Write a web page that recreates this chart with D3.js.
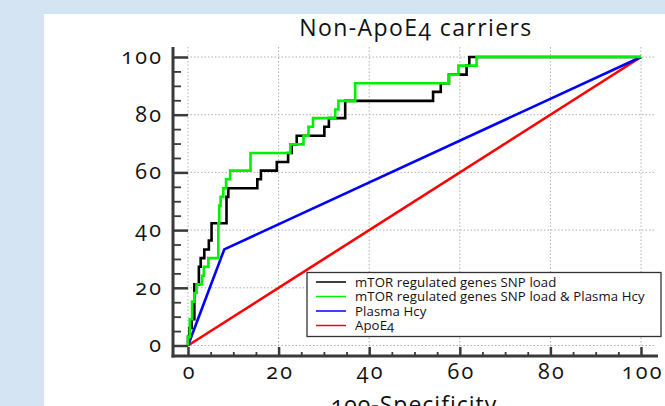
<!DOCTYPE html>
<html>
<head>
<meta charset="utf-8">
<script src="https://cdn.jsdelivr.net/npm/d3@7"></script>
<style>
  html, body { margin: 0; padding: 0; background: #d5e4f2; }
  svg { display: block; }
  .tick text, .lbl { font-family: "Open Sans", "DejaVu Sans", sans-serif; font-variant-numeric: oldstyle-nums; font-feature-settings: "onum" 1; }
</style>
</head>
<body>
<svg id="chart" width="665" height="406"></svg>
<script>
// ---------- data ----------
const title = "Non-ApoE4 carriers";
const xLabel = "100-Specificity";
const xTicks = [0, 20, 40, 60, 80, 100];
const yTicks = [0, 20, 40, 60, 80, 100];
const seriesNames = ["mTOR regulated genes SNP load", "mTOR regulated genes SNP load & Plasma Hcy", "Plasma Hcy", "ApoE4"];
const seriesColors = ["#000000", "#00f000", "#0000ff", "#ff0000"];

// ROC curves: [100-Specificity, Sensitivity]
const mtorSNP = [[0,0],[0,3.0],[0.3,3.0],[0.3,6.1],[0.8,6.1],[0.8,9.1],[1.4,9.1],[1.4,21.2],[2.4,21.2],[2.4,27.3],[2.8,27.3],[2.8,30.3],[3.6,30.3],[3.6,33.3],[4.6,33.3],[4.6,36.4],[5.2,36.4],[5.2,42.4],[8.5,42.4],[8.5,51.5],[8.9,51.5],[8.9,54.5],[15.3,54.5],[15.3,57.6],[16.1,57.6],[16.1,60.6],[19.6,60.6],[19.6,63.6],[22.1,63.6],[22.1,66.7],[22.9,66.7],[22.9,69.7],[24.0,69.7],[24.0,72.7],[30.1,72.7],[30.1,75.8],[31.1,75.8],[31.1,78.8],[34.7,78.8],[34.7,84.8],[54.1,84.8],[54.1,87.9],[55.8,87.9],[55.8,90.9],[57.6,90.9],[57.6,93.9],[61.5,93.9],[61.5,97.0],[62.1,97.0],[62.1,100],[100,100]];
const mtorSNPHcy = [[0,0],[0,3.0],[0.4,3.0],[0.4,9.1],[0.9,9.1],[0.9,15.2],[1.4,15.2],[1.4,18.2],[1.9,18.2],[1.9,21.2],[3.1,21.2],[3.1,24.2],[3.5,24.2],[3.5,27.3],[4.5,27.3],[4.5,30.3],[6.7,30.3],[6.7,42.4],[6.9,42.4],[6.9,48.5],[7.2,48.5],[7.2,51.5],[7.8,51.5],[7.8,54.5],[8.4,54.5],[8.4,57.6],[9.3,57.6],[9.3,60.6],[13.8,60.6],[13.8,66.7],[22.6,66.7],[22.6,69.7],[25.5,69.7],[25.5,72.7],[26.6,72.7],[26.6,75.8],[27.6,75.8],[27.6,78.8],[32.5,78.8],[32.5,81.8],[33.2,81.8],[33.2,84.8],[36.9,84.8],[36.9,90.9],[57.6,90.9],[57.6,93.9],[59.7,93.9],[59.7,97.0],[63.7,97.0],[63.7,100],[100,100]];
const plasmaHcy = [[0,0],[8,33.3],[100,100]];
const apoE4 = [[0,0],[100,100]];

// ---------- layout ----------
const svg = d3.select("#chart");
svg.append("rect").attr("x", 44).attr("y", 14).attr("width", 621).attr("height", 392).attr("fill", "#ffffff");

const axisX = 173, axisY = 356, topY = 47, rightX = 658;
const x = d3.scaleLinear().domain([0, 100]).range([188, 641]);
const y = d3.scaleLinear().domain([0, 100]).range([345.5, 57]);

// grid
const grid = svg.append("g").attr("stroke", "#b0b0b0").attr("stroke-width", 1).attr("stroke-dasharray", "1.5,2");
grid.selectAll("line.v").data(xTicks).join("line").attr("class", "v")
  .attr("x1", d => x(d)).attr("x2", d => x(d)).attr("y1", topY).attr("y2", axisY);
grid.selectAll("line.h").data(yTicks).join("line").attr("class", "h")
  .attr("x1", axisX).attr("x2", rightX - 3).attr("y1", d => y(d)).attr("y2", d => y(d));

// axes
const tickLS = 2.3;
const minor = d3.range(0, 101, 5).filter(v => v % 20 !== 0);
const yAxis = svg.append("g").attr("transform", `translate(${axisX},0)`)
  .call(d3.axisLeft(y).tickValues(yTicks).tickSize(-(x(0) - axisX)).tickPadding(12));
const yMinor = svg.append("g").attr("transform", `translate(${axisX},0)`)
  .call(d3.axisLeft(y).tickValues(minor).tickSize(-8).tickFormat(""));
const xAxis = svg.append("g").attr("transform", `translate(0,${axisY})`)
  .call(d3.axisBottom(x).tickValues(xTicks).tickSize(-9).tickPadding(8));
const xMinor = svg.append("g").attr("transform", `translate(0,${axisY})`)
  .call(d3.axisBottom(x).tickValues(minor).tickSize(-4).tickFormat(""));
[yAxis, yMinor, xAxis, xMinor].forEach(g => {
  g.select(".domain").remove();
  g.selectAll(".tick line").attr("stroke", "#3a3a3a").attr("stroke-width", 2.5);
  g.selectAll(".tick text").attr("fill", "#111").style("font-size", "21.5px")
    .style("font-weight", 500).style("letter-spacing", tickLS + "px");
});
yMinor.selectAll(".tick line").attr("stroke-width", 1.8);
xMinor.selectAll(".tick line").attr("stroke-width", 1.8);
yAxis.selectAll(".tick text").attr("dy", "0.3em").attr("dx", tickLS + "px");
xAxis.selectAll(".tick text").attr("dx", (tickLS / 2) + "px");

svg.append("line").attr("x1", axisX).attr("x2", axisX).attr("y1", topY).attr("y2", axisY + 1.5)
  .attr("stroke", "#3a3a3a").attr("stroke-width", 3);
svg.append("line").attr("x1", axisX - 1.5).attr("x2", rightX).attr("y1", axisY).attr("y2", axisY)
  .attr("stroke", "#3a3a3a").attr("stroke-width", 3);

// curves
const line = d3.line().x(d => x(d[0])).y(d => y(d[1]));
const curves = [[apoE4, 3], [plasmaHcy, 2], [mtorSNP, 0], [mtorSNPHcy, 1]];
curves.forEach(([data, i]) => {
  svg.append("path").datum(data).attr("d", line).attr("fill", "none")
    .attr("stroke", seriesColors[i]).attr("stroke-width", 2.6).attr("stroke-linejoin", "miter");
});

// title & axis label
svg.append("text").attr("class", "lbl").attr("x", 416).attr("y", 36).attr("text-anchor", "middle")
  .style("font-size", "23px").style("letter-spacing", "1.4px").attr("fill", "#111").text(title);
svg.append("text").attr("class", "lbl").attr("x", 414).attr("y", 413).attr("text-anchor", "middle")
  .style("font-size", "23px").style("letter-spacing", "1px").attr("fill", "#111").text(xLabel);

// legend
const lg = svg.append("g");
lg.append("rect").attr("x", 307).attr("y", 272.5).attr("width", 354).attr("height", 64)
  .attr("fill", "#ffffff").attr("stroke", "#333").attr("stroke-width", 1.3);
const rowY = d3.scalePoint().domain(seriesNames).range([282, 325.5]);
seriesNames.forEach((n, i) => {
  lg.append("line").attr("x1", 316).attr("x2", 346).attr("y1", rowY(n)).attr("y2", rowY(n))
    .attr("stroke", seriesColors[i]).attr("stroke-width", 1.5);
  lg.append("text").attr("class", "lbl").attr("x", 355).attr("y", rowY(n)).attr("dy", "0.35em")
    .style("font-size", "13.2px").style("letter-spacing", "0.1px").attr("fill", "#111").text(n);
});
</script>
</body>
</html>
